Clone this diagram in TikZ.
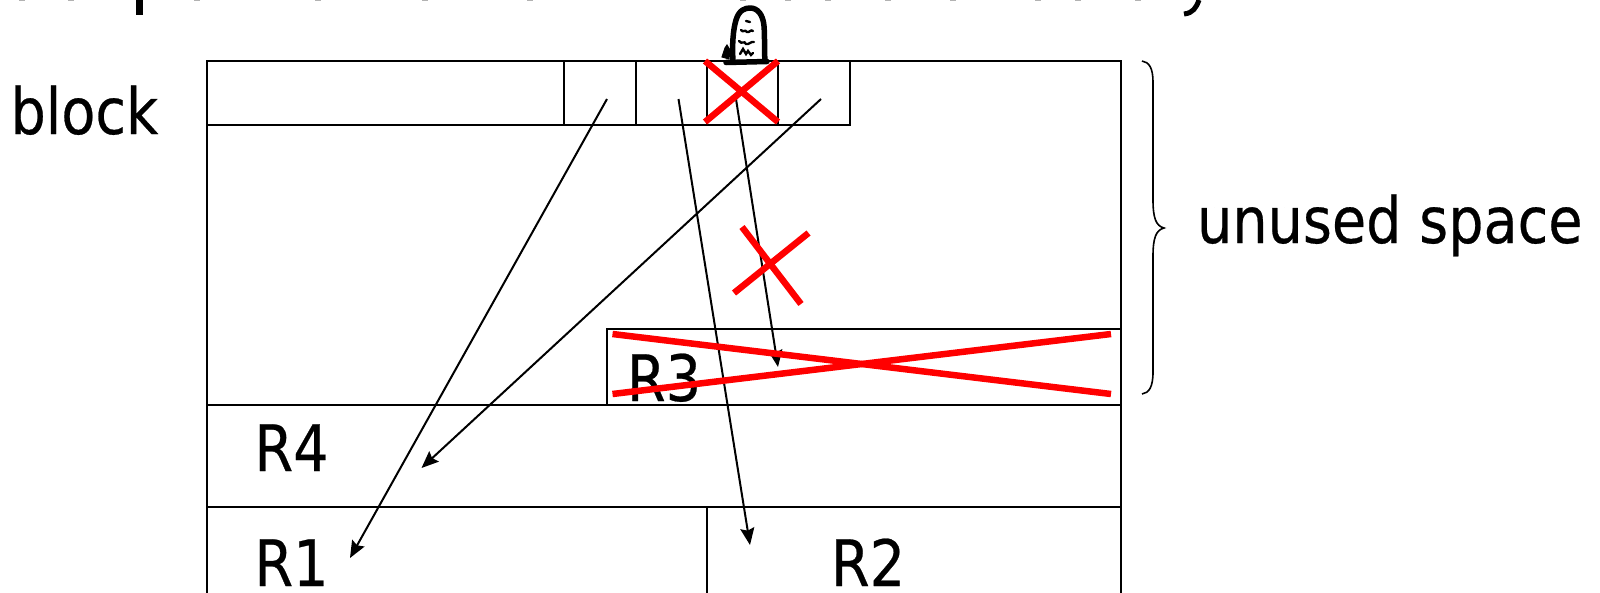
\documentclass[tikz,border=0pt]{standalone}
\usepackage{fontspec}
\usetikzlibrary{arrows.meta}
\newfontfamily\tahfont[FakeStretch=0.87,FakeBold=0.4]{DejaVu Sans}
\definecolor{xred}{RGB}{255,0,0}
\tikzset{
  frame/.style={draw=black,line width=1.9pt},
  link/.style={draw=black,line width=2pt,-{Stealth[length=17pt,width=14pt,inset=2.5pt]}},
  strike/.style={draw=xred,line width=6.5pt},
  ink/.style={draw=black,line width=5.5pt,line cap=round,line join=round},
  scrawl/.style={draw=black,line width=2.4pt,line cap=round},
  lab/.style={anchor=base west,inner sep=0pt,outer sep=0pt,font=\fontsize{64pt}{70pt}\selectfont\tahfont}
}
\begin{document}
\begin{tikzpicture}[x=1pt,y=-1pt]
\useasboundingbox (0,0) rectangle (1600,592);
\clip (0,0) rectangle (1600,592);
% block outline and rows
\draw[frame] (207,61) rectangle (1121,620);
\draw[frame] (207,125) -- (850,125) -- (850,61);
\draw[frame] (564,61) -- (564,125);
\draw[frame] (636,61) -- (636,125);
\draw[frame] (707,61) -- (707,125);
\draw[frame] (778,61) -- (778,125);
\draw[frame] (607,405) -- (607,329) -- (1121,329);
\draw[frame] (207,405) -- (1121,405);
\draw[frame] (207,507) -- (1121,507);
\draw[frame] (707,507) -- (707,620);
% labels
\node[lab] (blocklab) at (10.5,134) {block};
\node[lab] (unused) at (1197,243) {unused space};
\node[lab] (r4) at (254.5,471) {R4};
\node[lab] (r1) at (254.5,586) {R1};
\node[lab] (r2) at (831,586) {R2};
\node[lab] (r3) at (627,401) {R3};
% connector ends
\coordinate (s1) at (607,99);
\coordinate (t1) at (350,558);
\coordinate (s2) at (678.5,99);
\coordinate (t2) at (750,545);
\coordinate (s3) at (736,99);
\coordinate (t3) at (778,367);
\coordinate (s4) at (821,99);
\coordinate (t4) at (421.5,468);
\draw[link] (s1) -- (t1);
\draw[link] (s2) -- (t2);
\draw[link] (s3) -- (t3);
\draw[link] (s4) -- (t4);
% brace
\draw[draw=black,line width=1.6pt]
  (1142,61) .. controls (1149,62) and (1153,68) .. (1153,82)
  -- (1153,200) .. controls (1153,218) and (1156,226) .. (1164,228)
  .. controls (1156,230) and (1153,238) .. (1153,256)
  -- (1153,372) .. controls (1153,387) and (1149,393) .. (1142,394);
% red crosses
\draw[strike] (705,61) -- (778,122);
\draw[strike] (778,61) -- (705,122);
\draw[strike] (742,227) -- (801,304);
\draw[strike] (734,293) -- (808.5,233);
\draw[strike] (612.5,334) -- (1111,394);
\draw[strike] (612.5,394) -- (1111,334);
% tombstone
\draw[ink] (733,61) .. controls (732,45) and (733,30) .. (736,20)
  .. controls (739,10) and (745,8) .. (750,8)
  .. controls (758,8) and (763,15) .. (764,26)
  .. controls (765,38) and (764,50) .. (765,60);
\draw[ink] (726,62.5) -- (767,61.5);
\draw[black,fill=black,line width=1pt] (725,48) -- (727,45) -- (730,50) -- (729,59) -- (722,57) -- cycle;
\draw[scrawl] (746,21) -- (750,22);
\draw[scrawl] (741,30) .. controls (743,33) and (745,29) .. (747,32) .. controls (749,33) and (751,29) .. (753,31);
\draw[scrawl] (739,41) .. controls (742,45) and (744,40) .. (746,44) .. controls (749,45) and (751,41) .. (754,42);
\draw[scrawl] (740,54) -- (743,49) -- (746,54) -- (748,51) -- (751,55) -- (753,53);
% clipped remains of a text line above the picture
\fill[black] (136,0) rectangle (143,15);
\draw[black,line width=5pt] (1199,0) .. controls (1196,8) and (1193,13) .. (1184,14);
\foreach \sx in {19,68,194,315,422,527,740,785,825,885,950,1035,1075,1135} {
  \fill[black!30] (\sx,0) rectangle ++(6,1);
}
\end{tikzpicture}
\end{document}
